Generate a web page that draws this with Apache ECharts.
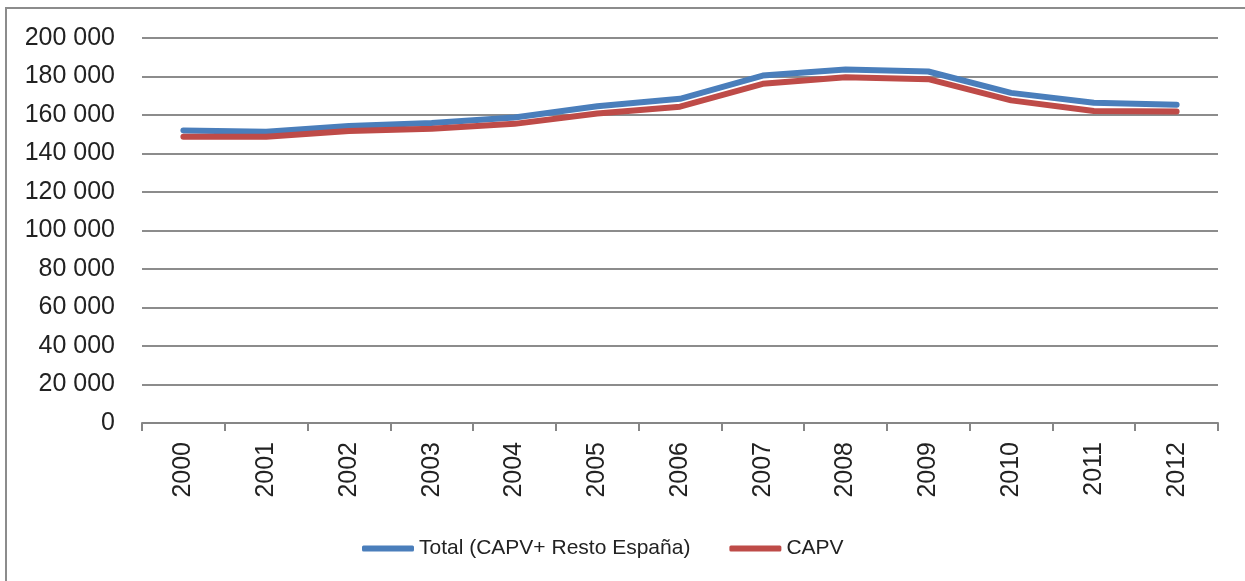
<!DOCTYPE html>
<html>
<head>
<meta charset="utf-8">
<script src="https://cdn.jsdelivr.net/npm/echarts@6/dist/echarts.min.js"></script>
<style>
  html, body { margin: 0; padding: 0; background: #fff; }
  #frame { position: absolute; left: 5px; top: 7px; width: 1250px; height: 600px;
           border-left: 2px solid #8c8c8c; border-top: 2px solid #8c8c8c; }
  #main { position: absolute; left: 0; top: 0; width: 1245px; height: 581px; }
</style>
</head>
<body>
<div id="frame"></div>
<div id="main"></div>
<script>
// años
const years = ["2000", "2001", "2002", "2003", "2004", "2005", "2006",
               "2007", "2008", "2009", "2010", "2011", "2012"];
// Total (CAPV + Resto España)
const totalValues = [152000, 151300, 154300, 155800, 158700, 164500, 168400,
                     180500, 183600, 182600, 171500, 166400, 165300];
// CAPV
const capvValues = [148700, 148700, 151700, 152800, 155400, 160800, 164300,
                    176200, 179600, 178600, 167600, 162100, 161800];
const yTicks = [0, 20000, 40000, 60000, 80000, 100000, 120000, 140000, 160000, 180000, 200000];

const myChart = echarts.init(document.getElementById("main"));
const font = "'Liberation Sans', sans-serif";

myChart.setOption({
  animation: false,
  color: ["#4a7ebb", "#be4b48"],
  grid: { left: 142, right: 27, top: 38, bottom: 158 },
  legend: {
    top: 533,
    left: 357,
    icon: "roundRect",
    itemWidth: 52,
    itemHeight: 6,
    itemGap: 39,
    textStyle: { fontFamily: font, fontSize: 21, color: "#222" },
    data: ["Total (CAPV+ Resto España)", "CAPV"]
  },
  xAxis: {
    type: "category",
    data: years,
    boundaryGap: true,
    axisLine: { lineStyle: { color: "#868686", width: 2 } },
    axisTick: { show: true, length: 8, lineStyle: { color: "#868686", width: 2 } },
    axisLabel: { rotate: 90, margin: 19, fontFamily: font, fontSize: 25, color: "#222" }
  },
  yAxis: {
    type: "value",
    min: yTicks[0],
    max: yTicks[yTicks.length - 1],
    interval: 20000,
    axisLine: { show: false },
    axisTick: { show: false },
    splitLine: { lineStyle: { color: "#8c8c8c", width: 2 } },
    axisLabel: {
      margin: 27,
      fontFamily: font,
      fontSize: 25,
      color: "#222",
      formatter: function (v) {
        return String(v).replace(/\B(?=(\d{3})+(?!\d))/g, " ");
      }
    }
  },
  series: [
    {
      name: "Total (CAPV+ Resto España)",
      type: "line",
      symbol: "none",
      lineStyle: { width: 6, cap: "round", join: "round" },
      data: totalValues
    },
    {
      name: "CAPV",
      type: "line",
      symbol: "none",
      lineStyle: { width: 6, cap: "round", join: "round" },
      data: capvValues
    }
  ]
});
</script>
</body>
</html>
